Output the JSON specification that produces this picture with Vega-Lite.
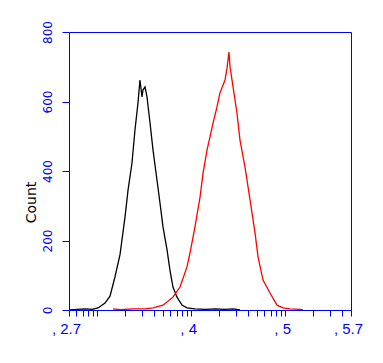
{
  "$schema": "https://vega.github.io/schema/vega-lite/v6.json",
  "width": 282,
  "height": 278,
  "autosize": {"type": "none"},
  "padding": {"left": 69, "top": 32, "right": 32, "bottom": 53},
  "background": "white",
  "config": {
    "view": {"stroke": "#0000ff", "strokeWidth": 1},
    "axis": {"grid": false, "domainColor": "#0000ff", "tickColor": "#0000ff", "labelColor": "#0000ff", "domainWidth": 1, "tickWidth": 1}
  },
  "data": {
    "values": [
      {"s": "control", "x": 2.711, "count": 0},
      {"s": "control", "x": 2.785, "count": 2},
      {"s": "control", "x": 2.87, "count": 3},
      {"s": "control", "x": 2.945, "count": 2},
      {"s": "control", "x": 3.009, "count": 6},
      {"s": "control", "x": 3.083, "count": 20},
      {"s": "control", "x": 3.136, "count": 40},
      {"s": "control", "x": 3.189, "count": 95},
      {"s": "control", "x": 3.243, "count": 160},
      {"s": "control", "x": 3.296, "count": 268},
      {"s": "control", "x": 3.328, "count": 345},
      {"s": "control", "x": 3.37, "count": 423},
      {"s": "control", "x": 3.402, "count": 518},
      {"s": "control", "x": 3.434, "count": 596},
      {"s": "control", "x": 3.455, "count": 662},
      {"s": "control", "x": 3.477, "count": 613},
      {"s": "control", "x": 3.487, "count": 633},
      {"s": "control", "x": 3.509, "count": 642},
      {"s": "control", "x": 3.53, "count": 613},
      {"s": "control", "x": 3.562, "count": 538},
      {"s": "control", "x": 3.594, "count": 460},
      {"s": "control", "x": 3.636, "count": 374},
      {"s": "control", "x": 3.668, "count": 308},
      {"s": "control", "x": 3.7, "count": 239},
      {"s": "control", "x": 3.743, "count": 173},
      {"s": "control", "x": 3.774, "count": 115},
      {"s": "control", "x": 3.806, "count": 66},
      {"s": "control", "x": 3.849, "count": 37},
      {"s": "control", "x": 3.902, "count": 14},
      {"s": "control", "x": 3.955, "count": 6},
      {"s": "control", "x": 4.04, "count": 3},
      {"s": "control", "x": 4.147, "count": 2},
      {"s": "control", "x": 4.253, "count": 3},
      {"s": "control", "x": 4.36, "count": 2},
      {"s": "control", "x": 4.445, "count": 3},
      {"s": "control", "x": 4.519, "count": 0},
      {"s": "sample", "x": 3.168, "count": 3},
      {"s": "sample", "x": 3.243, "count": 1},
      {"s": "sample", "x": 3.381, "count": 3},
      {"s": "sample", "x": 3.509, "count": 3},
      {"s": "sample", "x": 3.594, "count": 6},
      {"s": "sample", "x": 3.7, "count": 14},
      {"s": "sample", "x": 3.806, "count": 37},
      {"s": "sample", "x": 3.881, "count": 66},
      {"s": "sample", "x": 3.955, "count": 124},
      {"s": "sample", "x": 3.987, "count": 164},
      {"s": "sample", "x": 4.04, "count": 239},
      {"s": "sample", "x": 4.094, "count": 325},
      {"s": "sample", "x": 4.126, "count": 394},
      {"s": "sample", "x": 4.168, "count": 460},
      {"s": "sample", "x": 4.2, "count": 498},
      {"s": "sample", "x": 4.232, "count": 538},
      {"s": "sample", "x": 4.274, "count": 584},
      {"s": "sample", "x": 4.306, "count": 625},
      {"s": "sample", "x": 4.36, "count": 662},
      {"s": "sample", "x": 4.381, "count": 696},
      {"s": "sample", "x": 4.402, "count": 742},
      {"s": "sample", "x": 4.413, "count": 700},
      {"s": "sample", "x": 4.434, "count": 662},
      {"s": "sample", "x": 4.445, "count": 642},
      {"s": "sample", "x": 4.487, "count": 567},
      {"s": "sample", "x": 4.519, "count": 489},
      {"s": "sample", "x": 4.572, "count": 412},
      {"s": "sample", "x": 4.626, "count": 317},
      {"s": "sample", "x": 4.679, "count": 222},
      {"s": "sample", "x": 4.711, "count": 153},
      {"s": "sample", "x": 4.764, "count": 86},
      {"s": "sample", "x": 4.838, "count": 49},
      {"s": "sample", "x": 4.913, "count": 14},
      {"s": "sample", "x": 4.977, "count": 6},
      {"s": "sample", "x": 5.051, "count": 3},
      {"s": "sample", "x": 5.157, "count": 2},
      {"s": "sample", "x": 5.189, "count": 0}
    ]
  },
  "mark": {"type": "line", "strokeWidth": 1.3, "clip": true},
  "encoding": {
    "x": {
      "field": "x",
      "type": "quantitative",
      "scale": {"domain": [2.7, 5.7], "nice": false, "zero": false},
      "axis": {
        "title": null,
        "values": [2.7, 2.778, 2.845, 2.903, 2.954, 3, 3.301, 3.477, 3.602, 3.699, 3.778, 3.845, 3.903, 3.954, 4, 4.301, 4.477, 4.602, 4.699, 4.778, 4.845, 4.903, 4.954, 5, 5.301, 5.477, 5.602, 5.7],
        "labelExpr": "datum.value == 2.7 ? ', 2.7' : datum.value == 4 ? ', 4' : datum.value == 5 ? ', 5' : datum.value == 5.7 ? ', 5.7' : ''",
        "tickSize": 6,
        "labelPadding": 5,
        "labelBaseline": "top",
        "labelAlign": "center",
        "labelOffset": -3,
        "labelFont": "Liberation Sans",
        "labelFontSize": 15,
        "labelFlush": false,
        "labelOverlap": false,
        "labelBound": false
      }
    },
    "y": {
      "field": "count",
      "type": "quantitative",
      "scale": {"domain": [0, 800], "nice": false},
      "axis": {
        "values": [0, 200, 400, 600, 800],
        "tickSize": 7,
        "labelPadding": 11,
        "labelAngle": 270,
        "labelAlign": "center",
        "labelBaseline": "alphabetic",
        "labelFont": "DejaVu Sans",
        "labelFontSize": 12,
        "labelFlush": false,
        "labelOverlap": false,
        "labelBound": false,
        "title": "Count",
        "titleColor": "#000000",
        "titleFont": "DejaVu Sans",
        "titleFontSize": 14,
        "titleFontWeight": "normal",
        "titleAngle": 270,
        "titleAlign": "center",
        "titleBaseline": "alphabetic",
        "titleX": -34,
        "titleY": 170
      }
    },
    "color": {
      "field": "s",
      "type": "nominal",
      "scale": {"domain": ["control", "sample"], "range": ["#000000", "#ff0000"]},
      "legend": null
    }
  }
}
